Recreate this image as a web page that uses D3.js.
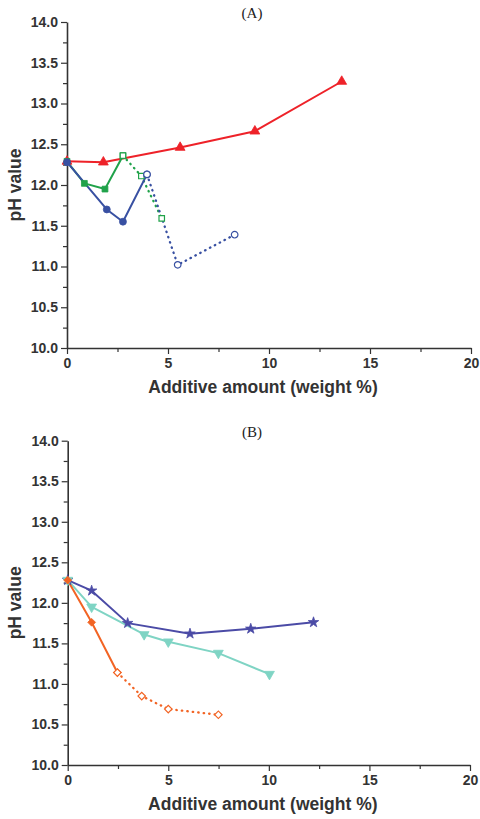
<!DOCTYPE html>
<html><head><meta charset="utf-8">
<script src="https://cdn.jsdelivr.net/npm/d3@7"></script>
<style>body{margin:0;background:#fff}svg{display:block}</style>
</head><body>
<script>
// ---------- data ----------
const xTicks = [0, 5, 10, 15, 20];
const yTicks = [10.0, 10.5, 11.0, 11.5, 12.0, 12.5, 13.0, 13.5, 14.0];

// Panel A
const redX = [0, 1.8, 5.6, 9.3, 13.6];
const redY = [12.29, 12.28, 12.46, 12.66, 13.27];
const greenSolidX = [0, 0.86, 1.88];
const greenSolidY = [12.29, 12.02, 11.95];
const greenOpenX = [2.77, 3.68, 4.69];
const greenOpenY = [12.36, 12.11, 11.59];
const blueSolidX = [0, 1.97, 2.77];
const blueSolidY = [12.28, 11.70, 11.55];
const blueOpenX = [3.96, 5.48, 8.30];
const blueOpenY = [12.13, 11.02, 11.39];

// Panel B
const starX = [0, 1.19, 2.98, 6.08, 9.10, 12.22];
const starY = [12.28, 12.15, 11.75, 11.62, 11.68, 11.76];
const tealX = [0, 1.19, 3.8, 5.0, 7.49, 10.03];
const tealY = [12.28, 11.95, 11.61, 11.52, 11.38, 11.12];
const orangeSolidX = [0, 1.19, 2.47];
const orangeSolidY = [12.28, 11.76, 11.14];
const orangeOpenX = [2.47, 3.68, 5.0, 7.49];
const orangeOpenY = [11.14, 10.85, 10.69, 10.62];

const xLabel = "Additive amount (weight %)";
const yLabel = "pH value";

// ---------- drawing ----------
const W = 480, H = 819;
const svg = d3.select("body").append("svg").attr("width", W).attr("height", H);
const zip = (xs, ys) => xs.map((x, i) => [x, ys[i]]);
const SANS = "Liberation Sans, Arial, Helvetica, sans-serif";

function panel(cfg) {
  const x = d3.scaleLinear().domain([0, 20]).range([cfg.left, cfg.right]);
  const y = d3.scaleLinear().domain([10, 14]).range([cfg.bottom, cfg.top]);
  const g = svg.append("g");
  const axisColor = "#333";

  // minor ticks
  const xa = g.append("g").attr("transform", `translate(0,${cfg.bottom})`)
    .call(d3.axisBottom(x).tickValues(d3.range(2.5, 20, 5)).tickSize(4).tickFormat(""));
  const ya = g.append("g").attr("transform", `translate(${cfg.left},0)`)
    .call(d3.axisLeft(y).tickValues(d3.range(10.25, 14, 0.5)).tickSize(4).tickFormat(""));
  [xa, ya].forEach(a => { a.select(".domain").remove(); a.selectAll("line").attr("stroke", axisColor).attr("stroke-width", 1.2); });

  // major axes
  const xb = g.append("g").attr("transform", `translate(0,${cfg.bottom})`)
    .call(d3.axisBottom(x).tickValues(xTicks).tickSize(6).tickPadding(4).tickSizeOuter(0).tickFormat(d3.format("d")));
  const yb = g.append("g").attr("transform", `translate(${cfg.left},0)`)
    .call(d3.axisLeft(y).tickValues(yTicks).tickSize(6).tickPadding(3).tickSizeOuter(0).tickFormat(d3.format(".1f")));
  [xb, yb].forEach(a => {
    a.select(".domain").attr("stroke", axisColor).attr("stroke-width", 1.6);
    a.selectAll("line").attr("stroke", axisColor).attr("stroke-width", 1.2);
    a.selectAll("text").attr("fill", "#333").style("font-family", SANS)
      .style("font-weight", "bold").style("font-size", "14px");
  });

  // labels
  g.append("text").attr("x", (cfg.left + cfg.right) / 2 - 6).attr("y", cfg.bottom + 45)
    .attr("text-anchor", "middle").attr("fill", "#333")
    .style("font-family", SANS).style("font-weight", "bold").style("font-size", "17.5px")
    .text(xLabel);
  g.append("text").attr("transform", `translate(21,${(cfg.top + cfg.bottom) / 2}) rotate(-90)`)
    .attr("text-anchor", "middle").attr("fill", "#333")
    .style("font-family", SANS).style("font-weight", "bold").style("font-size", "17.5px")
    .text(yLabel);
  g.append("text").attr("x", 252).attr("y", cfg.top - 4)
    .attr("text-anchor", "middle").attr("fill", "#222")
    .style("font-family", "Liberation Serif, Times New Roman, serif").style("font-size", "15px")
    .text(cfg.title);

  const line = d3.line().x(d => x(d[0])).y(d => y(d[1]));
  const sym = (type, size) => d3.symbol().type(type).size(size)();

  cfg.series.forEach(s => {
    const pts = zip(s.xs, s.ys);
    g.append("path").attr("d", line(pts)).attr("fill", "none")
      .attr("stroke", s.color).attr("stroke-width", s.dotted ? 2.3 : 2)
      .attr("stroke-dasharray", s.dotted ? "0.5,5" : null)
      .attr("stroke-linecap", s.dotted ? "round" : "butt")
      .attr("stroke-linejoin", "round");
  });
  cfg.series.forEach(s => {
    const pts = zip(s.xs, s.ys);
    g.selectAll(null).data(pts).enter().append("path")
      .attr("d", sym(s.symbol, s.size || 40))
      .attr("transform", d => `translate(${x(d[0])},${y(d[1])}) rotate(${s.rot || 0})`)
      .attr("fill", s.open ? "#fff" : s.color)
      .attr("stroke", s.color).attr("stroke-width", s.open ? 1.2 : 0.8);
  });
}

panel({
  title: "(A)", left: 67, right: 471, top: 22, bottom: 348,
  series: [
    { xs: redX, ys: redY, color: "#ee2229", symbol: d3.symbolTriangle, size: 42 },
    { xs: greenSolidX.concat([greenOpenX[0]]), ys: greenSolidY.concat([greenOpenY[0]]), color: "#20a24a", symbol: d3.symbolSquare, size: 34 },
    { xs: greenOpenX, ys: greenOpenY, color: "#20a24a", symbol: d3.symbolSquare, size: 30, open: true, dotted: true },
    { xs: blueSolidX.concat([blueOpenX[0]]), ys: blueSolidY.concat([blueOpenY[0]]), color: "#3850a2", symbol: d3.symbolCircle, size: 38 },
    { xs: blueOpenX, ys: blueOpenY, color: "#3850a2", symbol: d3.symbolCircle, size: 34, open: true, dotted: true }
  ]
});

panel({
  title: "(B)", left: 67.7, right: 470, top: 440.7, bottom: 765,
  series: [
    { xs: starX, ys: starY, color: "#4b4ba6", symbol: d3.symbolStar, size: 34 },
    { xs: tealX, ys: tealY, color: "#7fd4c4", symbol: d3.symbolTriangle, size: 42, rot: 180 },
    { xs: orangeSolidX, ys: orangeSolidY, color: "#f26424", symbol: d3.symbolSquare, size: 30, rot: 45 },
    { xs: orangeOpenX, ys: orangeOpenY, color: "#f26424", symbol: d3.symbolSquare, size: 28, rot: 45, open: true, dotted: true }
  ]
});
</script>
</body></html>
